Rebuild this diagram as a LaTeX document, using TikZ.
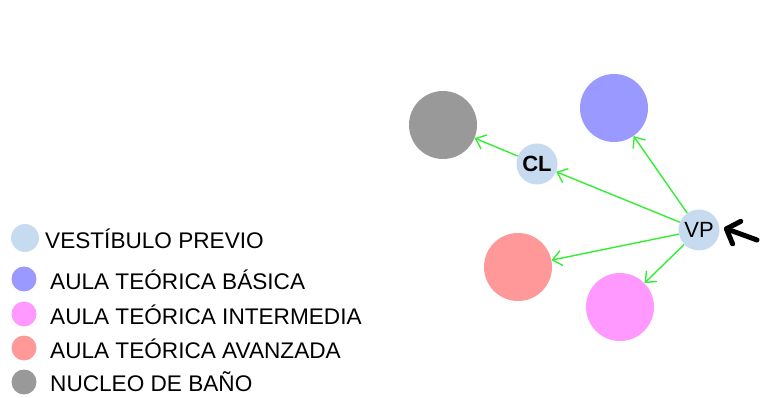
\documentclass[tikz,border=0pt]{standalone}
\usepackage{fontspec}
\setmainfont{Liberation Sans}
\usetikzlibrary{arrows.meta}
\definecolor{vpcol}{HTML}{C6DBEF}
\definecolor{bluecol}{HTML}{9999FF}
\definecolor{pinkcol}{HTML}{FF99FF}
\definecolor{redcol}{HTML}{FF9999}
\definecolor{graycol}{HTML}{999999}
\definecolor{edgecol}{HTML}{33EE33}
\begin{document}
\begin{tikzpicture}[x=1pt,y=-1pt,
  room/.style={circle,inner sep=0pt,minimum size=#1,draw=none},
  link/.style={draw=edgecol,line width=1.4pt,-{Straight Barb[length=9pt,width=15pt,line width=1.4pt]}},
  legdot/.style={circle,inner sep=0pt,minimum size=#1},
  legtxt/.style={anchor=base west,inner sep=0pt,font=\fontsize{22.6}{25}\selectfont},
  lbl/.style={font=\fontsize{22}{24}\selectfont}
]
\useasboundingbox (0,0) rectangle (765,398);
% rooms
\node[room=68pt,fill=graycol] (wc) at (443,125) {};
\node[room=68pt,fill=bluecol] (ab) at (614,108) {};
\node[room=68pt,fill=redcol] (aa) at (518,267) {};
\node[room=68pt,fill=pinkcol] (ai) at (620,307) {};
\node[room=41pt,fill=vpcol,lbl] (cl) at (537,164) {\bfseries CL};
\node[room=41pt,fill=vpcol,lbl] (vp) at (699,230) {VP};
% links
\draw[link] (vp) -- (ab);
\draw[link] (vp) -- (cl);
\draw[link] (vp) -- (aa);
\draw[link] (vp) -- (ai);
\draw[link] (cl) -- (wc);
% entry arrow
\coordinate (entry) at (757,240);
\coordinate (entrytip) at (724,228);
\draw[line width=5pt,line cap=round,-{Straight Barb[length=11pt,width=24pt,line width=5pt,round]}] (entry) -- (entrytip);
% legend
\node[legdot=28pt,fill=vpcol] (l1) at (25,238) {};
\node[legdot=25pt,fill=bluecol] (l2) at (24,279) {};
\node[legdot=25pt,fill=pinkcol] (l3) at (24,314) {};
\node[legdot=25pt,fill=redcol] (l4) at (24,348) {};
\node[legdot=25pt,fill=graycol] (l5) at (24,382) {};
\node[legtxt] (t1) at (45,248) {VESTÍBULO PREVIO};
\node[legtxt] (t2) at (50,289) {AULA TEÓRICA BÁSICA};
\node[legtxt] (t3) at (50,324) {AULA TEÓRICA INTERMEDIA};
\node[legtxt] (t4) at (50,358) {AULA TEÓRICA AVANZADA};
\node[legtxt] (t5) at (50,391) {NUCLEO DE BAÑO};
\end{tikzpicture}
\end{document}
